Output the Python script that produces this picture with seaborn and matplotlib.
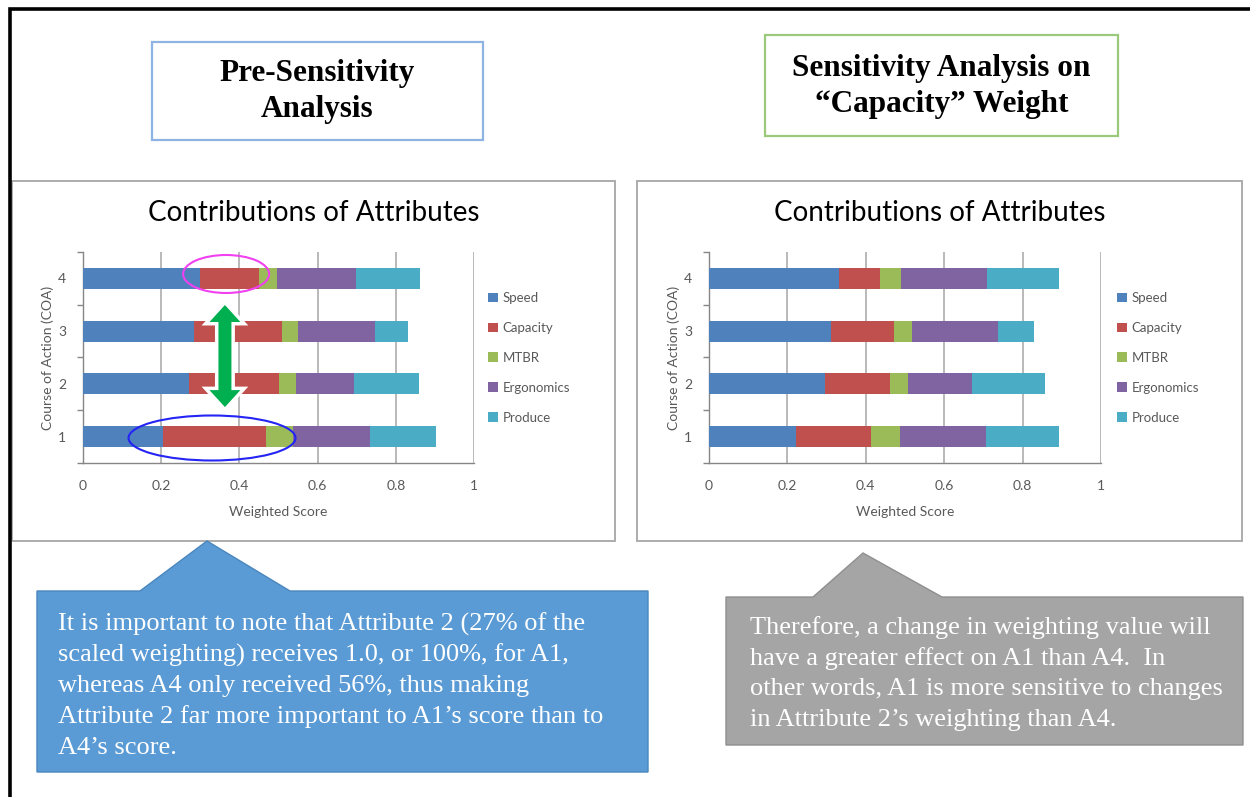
import numpy as np
import pandas as pd
import matplotlib
matplotlib.use("Agg")
import matplotlib.pyplot as plt
import matplotlib.patheffects as pe
from matplotlib.patches import Rectangle, Polygon, Ellipse, Patch
import seaborn as sns

W, H, DPI = 1250, 797, 100

# ---- data -------------------------------------------------------------
coa = ["1", "2", "3", "4"]
coa_order = ["4", "3", "2", "1"]
attributes = ["Speed", "Capacity", "MTBR", "Ergonomics", "Produce"]
attr_colors = ["#4F81BD", "#C0504D", "#9BBB59", "#8064A2", "#4BACC6"]
x_ticks = [0, 0.2, 0.4, 0.6, 0.8, 1]
x_tick_labels = ["0", "0.2", "0.4", "0.6", "0.8", "1"]

# weighted contribution of each attribute, per course of action 1..4
pre_speed = [0.204, 0.270, 0.285, 0.300]
pre_capacity = [0.265, 0.232, 0.223, 0.150]
pre_mtbr = [0.069, 0.042, 0.041, 0.047]
pre_ergonomics = [0.196, 0.148, 0.199, 0.200]
pre_produce = [0.170, 0.168, 0.082, 0.166]

sens_speed = [0.223, 0.296, 0.312, 0.331]
sens_capacity = [0.189, 0.166, 0.161, 0.106]
sens_mtbr = [0.075, 0.045, 0.044, 0.052]
sens_ergonomics = [0.219, 0.165, 0.221, 0.220]
sens_produce = [0.187, 0.185, 0.090, 0.184]

chart_title = "Contributions of Attributes"
x_label = "Weighted Score"
y_label = "Course of Action (COA)"

left_heading = ["Pre-Sensitivity", "Analysis"]
right_heading = ["Sensitivity Analysis on", "\u201cCapacity\u201d Weight"]

left_note = [
    "It is important to note that Attribute 2 (27% of the",
    "scaled weighting) receives 1.0, or 100%, for A1,",
    "whereas A4 only received 56%, thus making",
    "Attribute 2 far more important to A1\u2019s score than to",
    "A4\u2019s score.",
]
right_note = [
    "Therefore, a change in weighting value will",
    "have a greater effect on A1 than A4.  In",
    "other words, A1 is more sensitive to changes",
    "in Attribute 2\u2019s weighting than A4.",
]

# ---- styling ------------------------------------------------------------
sns.set_theme(style="white")
plt.rcParams["font.family"] = ["Lato", "DejaVu Sans"]
SERIF = ["Liberation Serif", "DejaVu Serif"]
AXIS_GREY = "#868686"
TEXT_GREY = "#595959"
SMALL = 10

fig = plt.figure(figsize=(W / DPI, H / DPI), dpi=DPI)
fig.patch.set_facecolor("white")

# pixel-space canvas for the slide furniture
bg = fig.add_axes([0, 0, 1, 1], zorder=0)
bg.set_xlim(0, W)
bg.set_ylim(H, 0)
bg.axis("off")


def fig_rect(x0, y0, x1, y1):
    return [x0 / W, 1 - y1 / H, (x1 - x0) / W, (y1 - y0) / H]


# slide frame
bg.plot([10, 10, W], [H, 9, 9], color="black", lw=2.6, solid_capstyle="butt",
        solid_joinstyle="miter")

# heading boxes
for (x0, y0, x1, y1), edge, lines in [
    ((152, 42, 483, 140), "#8EB4E3", left_heading),
    ((765, 35, 1118, 136), "#9BC97C", right_heading),
]:
    bg.add_patch(Rectangle((x0, y0), x1 - x0, y1 - y0, facecolor="white",
                           edgecolor=edge, lw=1.6))
    cx, cy = (x0 + x1) / 2, (y0 + y1) / 2
    for i, line in enumerate(lines):
        bg.text(cx, cy + (i - 0.5) * 36 + 0.5, line, ha="center", va="center",
                family=SERIF, fontweight="bold", fontsize=22.5, color="black")

# chart panels
for x0, x1 in [(12, 615), (637, 1242)]:
    bg.add_patch(Rectangle((x0, 181), x1 - x0, 541 - 181, facecolor="white",
                           edgecolor="#A6A6A6", lw=1.3))
    bg.text((x0 + x1) / 2, 213, chart_title, ha="center", va="center",
            fontsize=20, color="black")

# callouts
callouts = [
    ((37, 591, 648, 772), (140, 290, 207, 541), "#5B9BD5", "#4A86BE",
     left_note, (58, 631)),
    ((726, 597, 1243, 745), (813, 942, 863, 553), "#A5A5A5", "#8F8F8F",
     right_note, (750, 634)),
]
for (x0, y0, x1, y1), (b0, b1, ax_, ay_), face, edge, lines, (tx, ty) in callouts:
    verts = [(x0, y0), (b0, y0), (ax_, ay_), (b1, y0), (x1, y0), (x1, y1), (x0, y1)]
    bg.add_patch(Polygon(verts, closed=True, facecolor=face, edgecolor=edge, lw=1))
    for i, line in enumerate(lines):
        bg.text(tx, ty + i * 30.7, line, ha="left", va="baseline", family=SERIF,
                fontsize=19, color="white")


def contribution_chart(x0, x1, parts, legend_x):
    ax = fig.add_axes(fig_rect(x0, 252, x1, 463), zorder=2)
    ax.patch.set_alpha(0)
    wide = pd.DataFrame(dict(zip(attributes, parts)), index=coa)
    wide.index.name = "COA"
    running = wide.cumsum(axis=1).reset_index()
    # stacked bars: draw running totals from the outermost segment inwards
    for name, col in reversed(list(zip(attributes, attr_colors))):
        sns.barplot(data=running, x=name, y="COA", order=coa_order, orient="h",
                    color=col, saturation=1, width=0.4, linewidth=0,
                    errorbar=None, ax=ax, zorder=3)
    ax.set_xlim(0, 1)
    ax.set_ylim(3.5, -0.5)
    ax.set_xticks(x_ticks)
    ax.set_xticklabels(x_tick_labels)
    ax.set_yticks(range(len(coa_order)))
    ax.set_yticklabels(coa_order)
    ax.set_yticks(np.arange(-0.5, 3.6, 1), minor=True)
    ax.set_axisbelow(True)
    ax.xaxis.grid(True, color="#A6A6A6", lw=1.1)
    ax.yaxis.grid(False)
    for s in ("top", "right"):
        ax.spines[s].set_visible(False)
    for s in ("left", "bottom"):
        ax.spines[s].set_color(AXIS_GREY)
        ax.spines[s].set_linewidth(1.0)
    ax.tick_params(axis="x", direction="inout", length=7, width=1,
                   color=AXIS_GREY, labelsize=SMALL, labelcolor=TEXT_GREY, pad=9)
    ax.tick_params(axis="y", which="major", length=0, labelsize=SMALL,
                   labelcolor=TEXT_GREY, pad=12)
    ax.tick_params(axis="y", which="minor", direction="out", length=4, width=1,
                   color=AXIS_GREY, left=True)
    ax.set_xlabel(x_label, fontsize=SMALL, color=TEXT_GREY, labelpad=10)
    ax.set_ylabel(y_label, fontsize=SMALL, color=TEXT_GREY, labelpad=3)
    handles = [Patch(facecolor=c, edgecolor="none", label=a)
               for a, c in zip(attributes, attr_colors)]
    ax.legend(handles=handles, loc="upper left",
              bbox_to_anchor=(legend_x / W, 1 - 292 / H),
              bbox_transform=fig.transFigure, frameon=False, fontsize=9.5,
              labelcolor=TEXT_GREY, handlelength=0.75, handleheight=0.75,
              handletextpad=0.35, labelspacing=1.36, borderpad=0,
              borderaxespad=0)
    return ax


ax_pre = contribution_chart(83, 474, [pre_speed, pre_capacity, pre_mtbr,
                                      pre_ergonomics, pre_produce], 488)
ax_sens = contribution_chart(709, 1101, [sens_speed, sens_capacity, sens_mtbr,
                                         sens_ergonomics, sens_produce], 1117)

# highlights on the pre-sensitivity chart
ax_pre.add_patch(Ellipse((0.366, -0.083), 0.22, 0.72, facecolor="none",
                         edgecolor="#F040F0", lw=1.5, zorder=6, clip_on=False))
ax_pre.add_patch(Ellipse((0.33, 3.026), 0.427, 0.853, facecolor="none",
                         edgecolor="#2424F5", lw=1.5, zorder=6, clip_on=False))

xc, hw, sw, hl = 0.363, 0.0396, 0.0166, 0.322
yt, yb = 0.505, 2.44
arrow = Polygon([(xc, yt), (xc + hw, yt + hl), (xc + sw, yt + hl),
                 (xc + sw, yb - hl), (xc + hw, yb - hl), (xc, yb),
                 (xc - hw, yb - hl), (xc - sw, yb - hl), (xc - sw, yt + hl),
                 (xc - hw, yt + hl)], closed=True, facecolor="#00B050",
                edgecolor="none", zorder=7)
arrow.set_path_effects([pe.withStroke(linewidth=5, foreground="white")])
ax_pre.add_patch(arrow)

fig.savefig("out.png", dpi=DPI, facecolor="white")
